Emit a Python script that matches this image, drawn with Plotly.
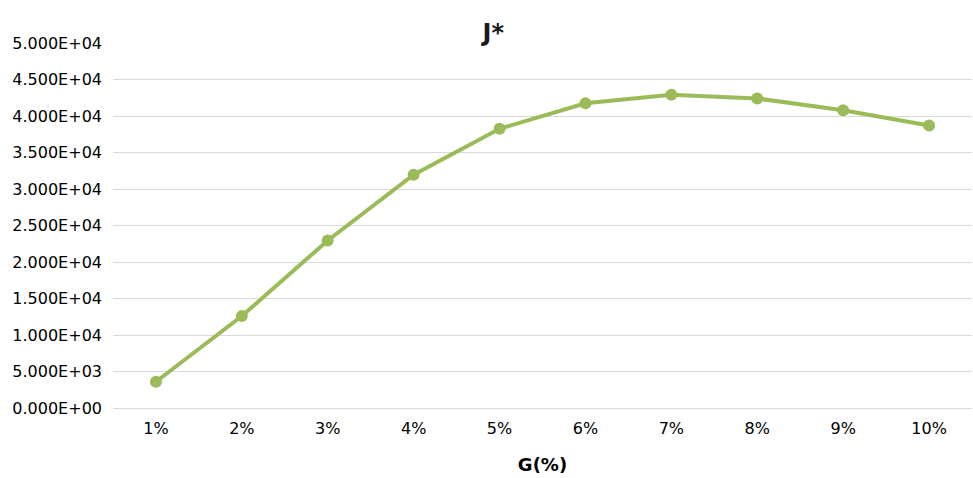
import plotly.graph_objects as go

categories = ["1%", "2%", "3%", "4%", "5%", "6%", "7%", "8%", "9%", "10%"]
j_star = [3600, 12600, 22950, 31950, 38250, 41750, 42900, 42400, 40800, 38700]
y_ticks = [0, 5000, 10000, 15000, 20000, 25000, 30000, 35000, 40000, 45000, 50000]
y_tick_labels = ["0.000E+00", "5.000E+03", "1.000E+04", "1.500E+04", "2.000E+04",
                 "2.500E+04", "3.000E+04", "3.500E+04", "4.000E+04", "4.500E+04",
                 "5.000E+04"]

font_family = "DejaVu Sans, sans-serif"

fig = go.Figure(
    go.Scatter(
        x=categories,
        y=j_star,
        mode="lines+markers",
        line=dict(color="#9BBB59", width=4),
        marker=dict(color="#9BBB59", size=12),
        showlegend=False,
    )
)

fig.update_layout(
    width=973,
    height=478,
    margin=dict(l=113, r=1, t=43, b=70),
    paper_bgcolor="white",
    plot_bgcolor="white",
    font=dict(family=font_family, size=16, color="#000000"),
    title=dict(
        text="<b>J*</b>",
        x=0.507, xanchor="center",
        y=0.931, yanchor="middle",
        font=dict(size=24, color="#1a1a1a"),
    ),
)

fig.update_xaxes(
    type="category",
    range=[-0.5, len(categories) - 0.5],
    showgrid=False,
    showline=True,
    linecolor="#D9D9D9",
    linewidth=1,
    ticks="",
    ticklabelstandoff=6,
    tickfont=dict(size=16),
    title=dict(text="<b>G(%)</b>", font=dict(size=18), standoff=21),
)

fig.update_yaxes(
    range=[0, 50000],
    tickvals=y_ticks,
    ticktext=y_tick_labels,
    showgrid=True,
    gridcolor="#D9D9D9",
    gridwidth=1,
    zeroline=False,
    showline=False,
    ticks="",
    ticklabelstandoff=10,
    tickfont=dict(size=16),
)

fig.write_html("out.html")
